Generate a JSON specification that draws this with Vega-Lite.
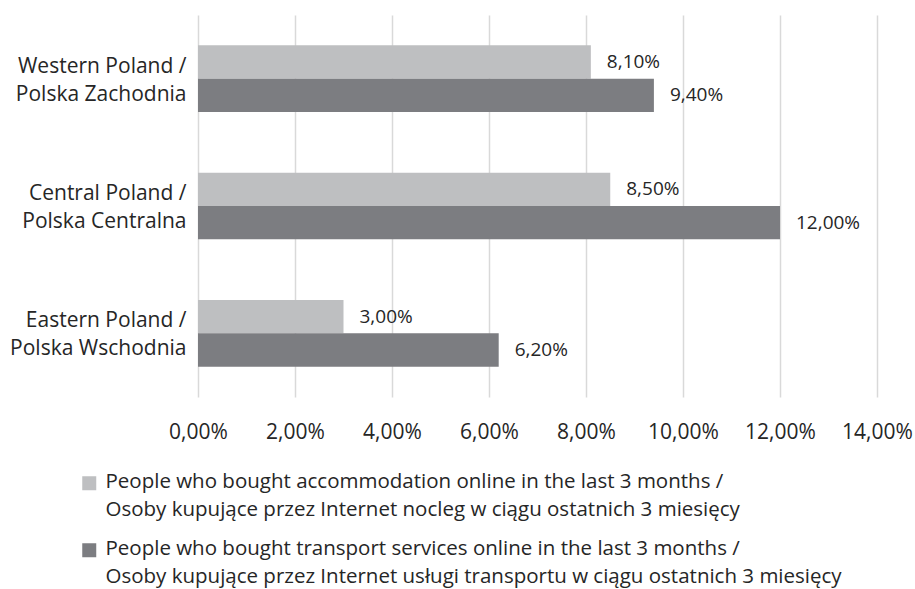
{
  "$schema": "https://vega.github.io/schema/vega-lite/v6.json",
  "width": 679,
  "height": 382,
  "autosize": {"type": "none"},
  "padding": {"left": 198, "top": 15, "right": 38, "bottom": 192},
  "background": "white",
  "config": {
    "locale": {"number": {"decimal": ",", "thousands": " ", "grouping": [3], "currency": ["", " zł"]}},
    "font": "Open Sans",
    "view": {"stroke": null}
  },
  "data": {
    "values": [
      {"region": "Western Poland /\nPolska Zachodnia", "series": "People who bought accommodation online in the last 3 months /\nOsoby kupujące przez Internet nocleg w ciągu ostatnich 3 miesięcy", "value": 0.081},
      {"region": "Western Poland /\nPolska Zachodnia", "series": "People who bought transport services online in the last 3 months /\nOsoby kupujące przez Internet usługi transportu w ciągu ostatnich 3 miesięcy", "value": 0.094},
      {"region": "Central Poland /\nPolska Centralna", "series": "People who bought accommodation online in the last 3 months /\nOsoby kupujące przez Internet nocleg w ciągu ostatnich 3 miesięcy", "value": 0.085},
      {"region": "Central Poland /\nPolska Centralna", "series": "People who bought transport services online in the last 3 months /\nOsoby kupujące przez Internet usługi transportu w ciągu ostatnich 3 miesięcy", "value": 0.12},
      {"region": "Eastern Poland /\nPolska Wschodnia", "series": "People who bought accommodation online in the last 3 months /\nOsoby kupujące przez Internet nocleg w ciągu ostatnich 3 miesięcy", "value": 0.03},
      {"region": "Eastern Poland /\nPolska Wschodnia", "series": "People who bought transport services online in the last 3 months /\nOsoby kupujące przez Internet usługi transportu w ciągu ostatnich 3 miesięcy", "value": 0.062}
    ]
  },
  "encoding": {
    "y": {
      "field": "region",
      "type": "nominal",
      "sort": null,
      "scale": {"paddingInner": 0.476, "paddingOuter": 0.238},
      "axis": {
        "title": null,
        "domain": false,
        "ticks": false,
        "labelExpr": "split(datum.value, '\\n')",
        "labelFontSize": 21,
        "labelColor": "#262626",
        "labelPadding": 12,
        "labelLineHeight": 28,
        "labelOffset": -12,
        "labelLimit": 0
      }
    },
    "yOffset": {"field": "series", "type": "nominal", "sort": null, "scale": {"paddingInner": 0, "paddingOuter": 0}},
    "x": {
      "field": "value",
      "type": "quantitative",
      "scale": {"domain": [0, 0.14]},
      "axis": {
        "title": null,
        "values": [0, 0.02, 0.04, 0.06, 0.08, 0.1, 0.12, 0.14],
        "format": ".2%",
        "domain": false,
        "ticks": false,
        "grid": true,
        "gridColor": "#d9d9d9",
        "gridWidth": 1.5,
        "labelFontSize": 21,
        "labelColor": "#262626",
        "labelPadding": 24,
        "labelFlush": false
      }
    }
  },
  "layer": [
    {
      "mark": {"type": "bar"},
      "encoding": {
        "color": {
          "field": "series",
          "type": "nominal",
          "sort": null,
          "scale": {"range": ["#bebfc1", "#7c7d81"]},
          "legend": {
            "title": null,
            "orient": "none",
            "legendX": -119,
            "legendY": 458,
            "direction": "vertical",
            "symbolType": "square",
            "symbolSize": 196,
            "symbolStrokeWidth": 0,
            "labelFontSize": 20.5,
            "labelColor": "#262626",
            "labelOffset": 6,
            "labelLimit": 0,
            "labelBaseline": "top",
            "rowPadding": 18,
            "labelExpr": "split(datum.value, '\\n')",
            "encode": {"labels": {"update": {"lineHeight": {"value": 28}, "dy": {"value": -11}}}}
          }
        }
      }
    },
    {
      "mark": {"type": "text", "align": "left", "baseline": "middle", "dx": 16, "fontSize": 19, "color": "#262626"},
      "encoding": {
        "text": {"field": "value", "type": "quantitative", "format": ".2%"}
      }
    }
  ]
}
